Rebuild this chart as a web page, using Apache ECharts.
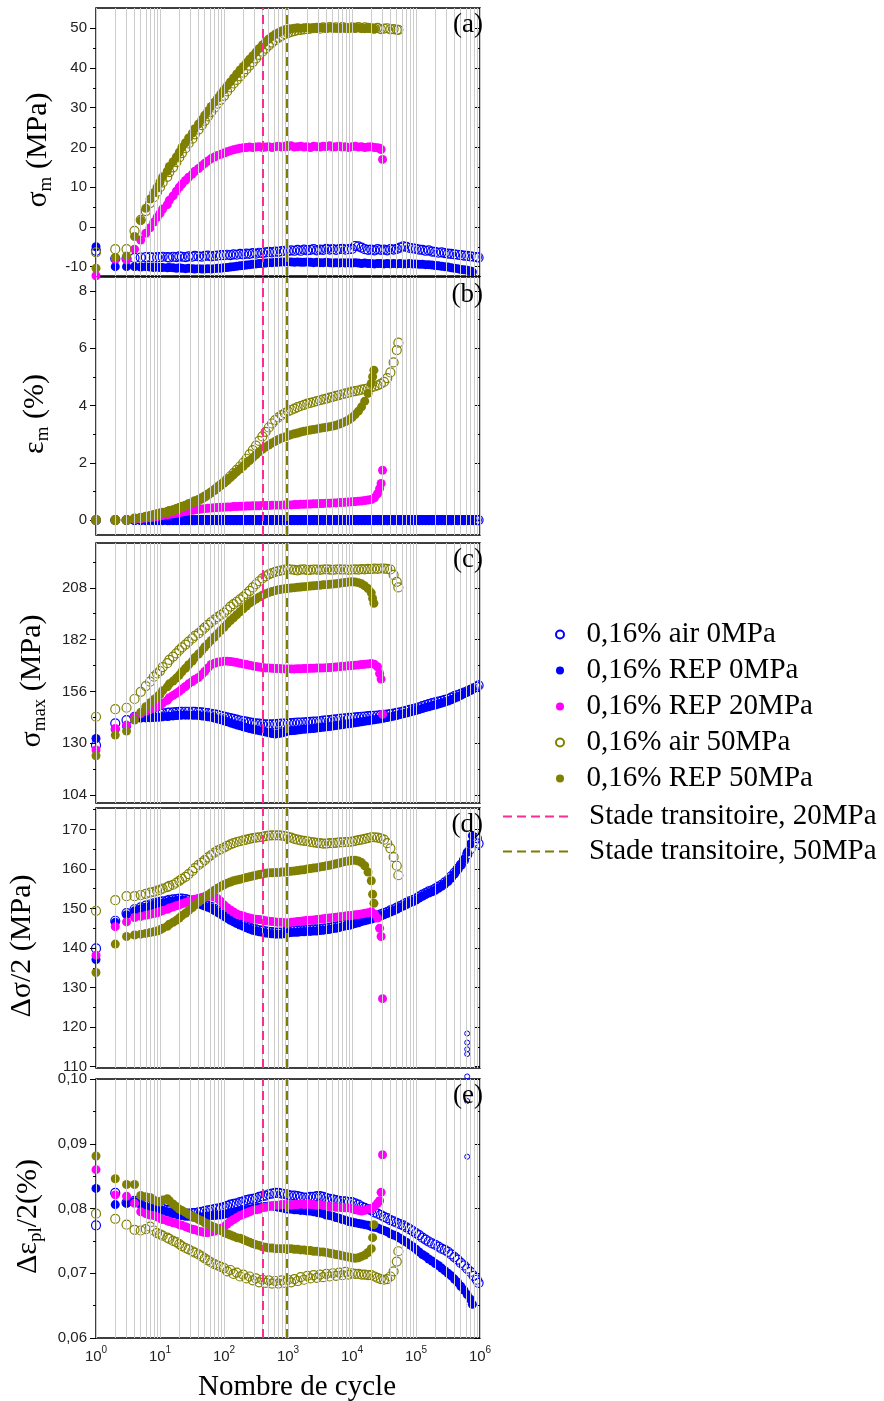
<!DOCTYPE html>
<html>
<head>
<meta charset="utf-8">
<script src="https://cdn.jsdelivr.net/npm/echarts@6/dist/echarts.min.js"></script>
<style>html,body{margin:0;padding:0;background:#fff}#c{width:884px;height:1401px}</style>
</head>
<body>
<div id="c"></div>
<script>
// ---------- cycles (x) ----------
const cycEarly = [1,2,3,4,5,6,7,8,9];
const cycD1 = [10,11,13,14,16,18,20,22,25,28,32,35,40,45,50,56,63,71,79,89];
const cycD2 = [100,112,126,141,158,178,200,224,251,282,316,355,398,447,501,562,631,708,794,891];
const cycD3 = [1000,1120,1260,1410,1580,1780,2000,2240,2510,2820,3160,3550,3980,4470,5010,5620,6310,7080,7940,8910];
const cycD4 = [10000,11200,12600,14100,15800,17800,20000,22400,25100,28200,31600,35500,39800,44700,50100,56200,63100,70800,79400,89100];
const cycD5 = [100000,112000,126000,141000,158000,178000,200000,224000,251000,282000,316000,355000,398000,447000,501000,562000,631000,708000,794000,891000];
const cycBase = cycEarly.concat(cycD1, cycD2, cycD3);
const cycAir0  = cycBase.concat(cycD4, cycD5, [950000]);
const cycRep0  = cycBase.concat(cycD4, cycD5.slice(0, 18), [760000]);
const cycRep20 = cycBase.concat(cycD4.slice(0, 8), [25000,27000,28500,30000]);
const cycAir50 = cycBase.concat(cycD4.slice(0, 15), [53000]);
const cycRep50 = cycBase.concat(cycD4.slice(0, 7), [21000,22000]);
const cycAir0Out = [630000,630000,630000,630000];

// ---------- (a) sigma_m (MPa) ----------
const a_air0 = [-6.0,-8.0,-8.0,-7.8,-7.7,-7.6,-7.6,-7.7,-7.6,
 -7.6,-7.5,-7.6,-7.7,-7.5,-7.6,-7.4,-7.5,-7.6,-7.4,-7.5,-7.3,-7.4,-7.5,-7.3,-7.2,-7.4,-7.3,-7.2,-7.1,
 -7.1,-7.0,-7.1,-6.9,-7.0,-6.8,-6.9,-6.7,-6.8,-6.6,-6.7,-6.5,-6.6,-6.4,-6.3,-6.4,-6.2,-6.3,-6.1,-6.0,
 -6.1,-5.9,-6.0,-5.8,-6.0,-5.7,-5.9,-5.8,-5.6,-5.9,-5.7,-5.8,-5.5,-5.7,-5.6,-5.8,-5.6,-5.5,-5.7,-5.6,
 -5.5,-4.8,-4.9,-5.2,-5.6,-5.8,-5.7,-5.9,-5.6,-5.8,-5.7,-5.9,-5.6,-5.7,-5.5,-5.2,-4.9,-5.0,-5.3,-5.4,
 -5.5,-5.7,-5.8,-6.0,-5.9,-6.2,-6.3,-6.5,-6.4,-6.6,-6.7,-6.8,-6.9,-7.0,-7.1,-7.2,-7.3,-7.4,-7.5,-7.6,
 -7.7];
const a_rep0 = [-5.0,-10.0,-10.0,-10.0,-10.1,-10.0,-10.1,-10.2,-10.1,
 -10.2,-10.2,-10.3,-10.2,-10.3,-10.4,-10.3,-10.4,-10.5,-10.4,-10.5,-10.6,-10.5,-10.6,-10.6,-10.5,-10.6,-10.5,-10.4,-10.4,
 -10.3,-10.2,-10.1,-10.0,-9.9,-9.8,-9.7,-9.6,-9.5,-9.4,-9.3,-9.2,-9.2,-9.1,-9.0,-9.0,-8.9,-8.9,-8.8,-8.8,
 -8.8,-8.8,-8.9,-8.8,-8.9,-8.9,-8.8,-8.9,-9.0,-8.9,-9.0,-9.0,-8.9,-9.0,-9.1,-9.0,-9.1,-9.0,-9.1,-9.0,
 -9.1,-9.0,-9.1,-9.2,-9.1,-9.2,-9.2,-9.3,-9.2,-9.2,-9.3,-9.2,-9.3,-9.2,-9.3,-9.2,-9.3,-9.3,-9.2,-9.3,
 -9.3,-9.4,-9.4,-9.5,-9.5,-9.6,-9.7,-9.8,-9.9,-10.0,-10.1,-10.3,-10.4,-10.5,-10.7,-10.8,-10.9,-11.1,
 -11.3];
const a_rep20 = [-12.3,-8.1,-8.3,-5.6,-3.3,-1.6,-0.2,1.2,2.4,
 3.4,4.5,5.6,6.7,7.8,9.0,10.0,10.8,11.7,12.5,13.3,14.0,14.7,15.4,16.0,16.6,17.2,17.6,18.0,18.3,
 18.6,18.9,19.2,19.4,19.6,19.8,19.9,20.0,20.1,20.0,20.1,20.2,20.0,20.1,20.2,20.0,20.2,20.3,20.1,20.3,
 20.2,20.4,20.1,20.2,20.3,20.1,20.2,20.0,20.3,20.2,20.1,20.3,20.2,20.4,20.1,20.2,20.3,20.1,20.2,20.0,
 20.2,20.3,20.1,20.2,20.0,20.1,20.2,20.0,
 19.9,19.8,19.5,17.0];
const a_air50 = [-6.4,-5.6,-5.6,-1.0,1.8,4.0,6.0,7.5,8.8,
 10.0,11.2,12.6,13.8,15.0,16.3,17.5,18.6,19.8,21.0,22.2,23.3,24.5,25.6,26.7,27.8,28.9,30.0,31.0,32.0,
 33.0,34.1,35.1,36.1,37.0,37.9,38.8,39.7,40.6,41.5,42.4,43.3,44.1,44.9,45.7,46.4,47.0,47.6,48.1,48.5,
 48.8,49.1,49.3,49.5,49.6,49.7,49.8,49.9,50.0,50.1,49.9,50.2,50.0,50.3,50.1,50.2,50.0,50.3,50.1,50.0,
 50.2,50.1,50.3,50.0,50.2,50.1,50.0,49.9,50.1,49.8,49.9,50.0,49.7,49.8,49.6,
 49.6];
const a_rep50 = [-10.4,-7.6,-7.3,-2.4,1.6,4.7,7.0,8.6,10.0,
 11.3,12.6,14.0,15.2,16.4,17.6,18.8,20.0,21.2,22.4,23.6,24.7,25.9,27.0,28.1,29.2,30.3,31.4,32.4,33.5,
 34.5,35.5,36.5,37.5,38.5,39.5,40.4,41.3,42.2,43.1,44.0,44.9,45.8,46.6,47.3,47.9,48.5,48.9,49.3,49.6,
 49.8,49.9,50.0,50.1,50.0,50.1,50.2,50.0,50.1,50.0,50.2,50.1,50.0,50.1,50.2,50.0,50.1,50.0,50.1,50.0,
 50.1,50.0,50.1,50.0,49.9,50.0,50.0,
 49.9,49.8];

// ---------- (b) eps_m (%) ----------
const b_air0 = [0,0,0,0,0,0,0,0,0,
 0,0,0,0,0,0,0,0,0,0,0,0,0,0,0,0,0,0,0,0,
 0,0,0,0,0,0,0,0,0,0,0,0,0,0,0,0,0,0,0,0,
 0,0,0,0,0,0,0,0,0,0,0,0,0,0,0,0,0,0,0,0,
 0,0,0,0,0,0,0,0,0,0,0,0,0,0,0,0,0,0,0,0,
 0,0,0,0,0,0,0,0,0,0,0,0,0,0,0,0,0,0,0,0,
 0];
const b_rep0 = [0,0,0,0,0,0,0,0,0,
 0,0,0,0,0,0,0,0,0,0,0,0,0,0,0,0,0,0,0,0,
 0,0,0,0,0,0,0,0,0,0,0,0,0,0,0,0,0,0,0,0,
 0,0,0,0,0,0,0,0,0,0,0,0,0,0,0,0,0,0,0,0,
 0,0,0,0,0,0,0,0,0,0,0,0,0,0,0,0,0,0,0,0,
 0,0,0,0,0,0,0,0,0,0,0,0,0,0,0,0,0,0,
 0];
const b_rep20 = [0,0,0,0.02,0.04,0.06,0.08,0.10,0.12,
 0.14,0.16,0.18,0.20,0.22,0.24,0.26,0.28,0.30,0.32,0.34,0.36,0.37,0.39,0.40,0.41,0.42,0.43,0.44,0.445,
 0.45,0.46,0.46,0.47,0.47,0.48,0.48,0.49,0.49,0.50,0.50,0.50,0.51,0.51,0.51,0.52,0.52,0.52,0.52,0.53,
 0.53,0.53,0.54,0.54,0.55,0.55,0.56,0.56,0.57,0.57,0.58,0.58,0.59,0.59,0.60,0.60,0.61,0.61,0.62,0.63,
 0.64,0.65,0.66,0.67,0.68,0.70,0.72,0.78,
 0.92,1.10,1.28,1.74];
const b_air50 = [0,0,0,0.05,0.08,0.11,0.14,0.17,0.20,
 0.23,0.25,0.28,0.31,0.34,0.38,0.42,0.46,0.50,0.55,0.60,0.65,0.70,0.76,0.82,0.89,0.97,1.05,1.14,1.23,
 1.32,1.42,1.53,1.64,1.75,1.87,2.00,2.14,2.29,2.44,2.60,2.76,2.92,3.08,3.23,3.37,3.49,3.58,3.66,3.73,
 3.79,3.84,3.89,3.94,3.98,4.02,4.06,4.09,4.12,4.15,4.18,4.21,4.24,4.27,4.30,4.33,4.36,4.39,4.42,4.45,
 4.48,4.50,4.52,4.55,4.57,4.60,4.63,4.66,4.70,4.75,4.82,4.95,5.15,5.50,5.93,
 6.19];
const b_rep50 = [0,0,0,0.06,0.09,0.12,0.15,0.18,0.21,
 0.24,0.26,0.29,0.32,0.35,0.39,0.43,0.47,0.51,0.56,0.61,0.66,0.71,0.77,0.83,0.90,0.97,1.05,1.13,1.21,
 1.29,1.38,1.48,1.58,1.68,1.78,1.88,1.98,2.08,2.18,2.28,2.38,2.47,2.55,2.62,2.69,2.75,2.81,2.86,2.90,
 2.94,2.98,3.01,3.04,3.07,3.10,3.12,3.14,3.16,3.18,3.20,3.22,3.24,3.26,3.28,3.31,3.35,3.39,3.44,3.50,
 3.58,3.68,3.80,3.95,4.15,4.42,4.77,
 5.00,5.23];

// ---------- (c) sigma_max (MPa) ----------
const c_air0 = [129.0,140.0,141.6,143.3,143.8,144.0,144.3,144.5,144.7,
 145.0,145.1,145.3,145.4,145.5,145.6,145.7,145.8,145.8,145.8,145.8,145.7,145.6,145.5,145.3,145.1,144.8,144.5,144.2,143.8,
 143.4,143.0,142.6,142.2,141.8,141.4,141.1,140.8,140.5,140.2,140.0,139.8,139.6,139.5,139.5,139.5,139.6,139.7,139.8,139.9,
 140.0,140.1,140.2,140.3,140.4,140.5,140.6,140.7,140.8,140.9,141.1,141.3,141.5,141.6,141.8,142.0,142.2,142.4,142.5,142.7,
 142.8,143.0,143.1,143.3,143.4,143.6,143.7,143.8,143.9,144.1,144.2,144.4,144.6,144.9,145.2,145.5,145.9,146.3,146.7,147.1,
 147.5,148.0,148.6,149.1,149.6,150.1,150.5,150.9,151.3,151.8,152.2,152.9,153.6,154.2,154.8,155.4,156.0,156.8,157.6,158.3,
 159.0];
const c_rep0 = [132.4,137.0,138.5,142.5,142.6,142.7,142.8,142.9,143.0,
 143.1,143.3,143.4,143.6,143.7,143.9,144.0,144.1,144.1,144.1,144.1,144.0,143.9,143.7,143.5,143.3,143.0,142.6,142.2,141.8,
 141.3,140.8,140.2,139.7,139.2,138.8,138.3,137.8,137.4,137.0,136.6,136.3,136.0,135.6,135.2,134.9,134.6,134.8,135.1,135.6,
 136.1,136.3,136.4,136.6,136.8,137.0,137.1,137.3,137.4,137.6,137.8,138.0,138.2,138.4,138.6,138.9,139.1,139.3,139.6,139.8,
 140.0,140.3,140.5,140.8,141.0,141.3,141.5,141.8,142.0,142.3,142.6,142.9,143.2,143.6,143.9,144.4,144.8,145.2,145.6,146.0,
 146.4,146.9,147.4,147.9,148.3,148.8,149.2,149.7,150.1,150.6,151.2,151.8,152.5,153.2,154.0,154.8,155.6,156.5,
 157.5];
const c_rep20 = [126.6,137.4,139.1,143.3,144.8,146.0,147.1,148.0,148.6,
 149.0,150.2,151.5,152.8,154.0,155.0,156.0,157.2,158.5,159.8,161.0,162.0,163.0,164.5,166.0,167.8,169.5,170.1,170.6,170.9,
 171.2,171.2,171.0,170.8,170.5,170.1,169.8,169.5,169.2,168.8,168.5,168.2,168.0,167.8,167.7,167.6,167.5,167.5,167.4,167.3,
 167.3,167.3,167.3,167.4,167.4,167.5,167.5,167.6,167.6,167.7,167.7,167.8,167.9,168.0,168.1,168.3,168.4,168.6,168.7,168.9,
 169.0,169.2,169.3,169.5,169.6,169.8,170.0,169.6,
 168.4,165.0,162.2,144.5];
const c_air50 = [143.3,147.1,147.8,152.2,155.8,158.7,160.9,163.4,165.0,
 166.2,168.2,170.2,171.8,173.5,175.1,176.7,178.1,179.5,181.0,182.6,183.9,185.1,186.6,188.0,189.4,190.8,192.0,193.3,194.4,
 195.5,197.0,198.6,199.8,201.0,202.2,203.5,205.0,206.5,208.2,209.8,211.3,212.7,213.8,214.8,215.4,216.0,216.4,216.8,217.1,
 217.4,217.2,217.0,216.8,217.1,217.3,216.9,217.0,217.2,217.1,217.0,217.2,217.3,217.1,217.0,217.2,217.3,217.1,217.2,217.0,
 217.2,217.3,217.1,217.4,217.3,217.5,217.4,217.6,217.5,217.7,217.6,217.5,217.2,214.5,211.0,
 208.2];
const c_rep50 = [123.7,134.1,136.1,141.6,145.5,148.3,150.3,152.0,153.3,
 154.5,156.4,158.3,159.8,161.2,162.7,164.2,165.9,167.6,169.4,171.2,173.0,174.8,176.5,178.3,179.9,181.6,183.3,185.0,186.6,
 188.2,189.9,191.6,193.0,194.5,196.0,197.5,198.9,200.3,201.4,202.4,203.4,204.3,205.0,205.6,206.1,206.6,207.0,207.3,207.5,
 207.7,207.9,208.1,208.3,208.4,208.6,208.7,208.9,209.0,209.2,209.3,209.5,209.6,209.8,209.9,210.1,210.3,210.5,210.7,210.9,
 211.0,210.9,210.6,210.0,209.0,207.6,205.5,
 202.7,200.2];

// ---------- (d) delta sigma / 2 (MPa) ----------
const d_air0 = [139.9,146.9,148.8,149.8,150.3,150.7,151.0,151.3,151.5,
 151.7,151.8,152.0,152.2,152.3,152.4,152.5,152.5,152.4,152.2,152.0,151.8,151.5,151.3,151.0,150.7,150.4,149.9,149.4,148.9,
 148.4,147.9,147.4,147.0,146.6,146.2,145.9,145.5,145.2,144.9,144.7,144.5,144.4,144.2,144.1,144.0,143.9,143.9,143.9,144.0,
 144.2,144.3,144.4,144.4,144.5,144.5,144.6,144.6,144.7,144.7,144.8,144.9,145.0,145.1,145.3,145.4,145.6,145.8,146.0,146.1,
 146.3,146.6,146.8,147.1,147.3,147.5,147.7,148.0,148.2,148.5,148.8,149.1,149.5,149.8,150.2,150.6,151.0,151.4,151.8,152.1,
 152.5,153.0,153.5,153.9,154.3,154.6,155.0,155.5,156.0,156.6,157.2,158.1,159.0,160.0,161.0,162.2,163.6,165.0,166.8,167.8,
 166.4];
const d_air0_out = [118.4,116.1,114.4,113.2];
const d_rep0 = [137.1,146.5,148.4,149.4,149.9,150.3,150.6,150.9,151.1,
 151.3,151.4,151.6,151.8,151.9,152.0,152.1,152.1,152.0,151.8,151.6,151.4,151.1,150.9,150.6,150.3,150.0,149.5,149.0,148.5,
 148.0,147.5,147.0,146.6,146.2,145.8,145.5,145.1,144.8,144.5,144.3,144.1,144.0,143.8,143.7,143.6,143.5,143.5,143.5,143.6,
 143.8,143.9,144.0,144.0,144.1,144.1,144.2,144.2,144.3,144.3,144.4,144.5,144.6,144.7,144.9,145.0,145.2,145.4,145.6,145.7,
 145.9,146.2,146.4,146.7,146.9,147.1,147.3,147.6,147.8,148.1,148.4,148.7,149.1,149.4,149.8,150.2,150.6,151.0,151.4,151.7,
 152.1,152.6,153.1,153.5,153.9,154.2,154.6,155.1,155.6,156.2,156.8,157.7,158.7,159.8,161.0,162.4,164.2,166.3,
 168.4];
const d_rep20 = [138.2,145.4,146.6,147.7,148.0,148.3,148.5,148.7,148.9,
 149.2,149.5,149.8,150.1,150.4,150.7,150.9,151.2,151.5,151.8,152.1,152.3,152.6,152.8,153.0,153.1,153.1,152.9,152.5,151.8,
 150.9,150.2,149.6,149.1,148.6,148.3,148.1,147.8,147.6,147.4,147.3,147.2,147.1,146.9,146.8,146.7,146.6,146.5,146.5,146.4,
 146.4,146.5,146.6,146.7,146.8,146.9,147.0,147.0,147.1,147.2,147.3,147.4,147.5,147.6,147.7,147.8,147.9,148.0,148.1,148.2,
 148.2,148.4,148.5,148.6,148.8,148.9,149.2,148.6,
 147.6,145.0,142.9,127.2];
const d_air50 = [149.4,152.1,153.1,153.1,153.4,153.7,154.0,154.2,154.5,
 154.7,155.0,155.4,155.7,156.0,156.5,157.0,157.5,158.0,158.7,159.5,160.2,161.0,161.6,162.2,162.9,163.5,164.1,164.6,165.0,
 165.4,165.8,166.2,166.5,166.8,167.0,167.2,167.4,167.6,167.8,167.9,168.0,168.1,168.3,168.4,168.5,168.5,168.5,168.4,168.3,
 168.1,167.9,167.6,167.4,167.2,167.1,167.0,166.8,166.7,166.6,166.5,166.4,166.4,166.5,166.5,166.6,166.7,166.7,166.8,166.8,
 166.9,167.1,167.3,167.4,167.6,167.8,168.0,168.0,167.9,167.7,167.4,166.5,165.2,163.0,160.8,
 158.4];
const d_rep50 = [133.8,141.0,142.9,143.3,143.5,143.7,143.9,144.1,144.3,
 144.6,145.0,145.5,146.0,146.5,147.0,147.6,148.2,148.8,149.5,150.2,150.9,151.6,152.2,152.8,153.4,154.0,154.6,155.1,155.6,
 156.0,156.4,156.7,157.0,157.2,157.4,157.6,157.8,158.0,158.2,158.4,158.6,158.7,158.9,159.0,159.0,159.1,159.1,159.2,159.2,
 159.3,159.4,159.5,159.6,159.7,159.8,160.0,160.1,160.2,160.3,160.5,160.6,160.8,160.9,161.1,161.3,161.5,161.7,161.9,162.0,
 162.2,162.2,162.0,161.6,160.8,159.2,157.0,
 153.6,151.3];

// ---------- (e) delta eps_pl / 2 (%) ----------
const e_air0 = [0.0774,0.0824,0.0809,0.0812,0.0808,0.0806,0.0804,0.0803,0.0802,
 0.0803,0.0800,0.0798,0.0797,0.0796,0.0795,0.0794,0.0793,0.0792,0.0792,0.0793,0.0793,0.0794,0.0795,0.0796,0.0797,0.0798,0.0799,0.0800,0.0801,
 0.0802,0.0804,0.0806,0.0807,0.0808,0.0810,0.0811,0.0813,0.0814,0.0815,0.0816,0.0818,0.0819,0.0820,0.0822,0.0823,0.0824,0.0824,0.0823,0.0822,
 0.0821,0.0820,0.0820,0.0819,0.0818,0.0817,0.0817,0.0818,0.0818,0.0819,0.0819,0.0818,0.0816,0.0815,0.0814,0.0813,0.0812,0.0811,0.0811,0.0810,
 0.0810,0.0808,0.0806,0.0803,0.0801,0.0799,0.0797,0.0794,0.0792,0.0790,0.0787,0.0785,0.0782,0.0780,0.0778,0.0776,0.0774,0.0771,0.0768,0.0765,
 0.0762,0.0759,0.0755,0.0752,0.0749,0.0746,0.0744,0.0741,0.0738,0.0736,0.0733,0.0729,0.0725,0.0721,0.0716,0.0712,0.0707,0.0702,0.0696,0.0690,
 0.0685];
const e_air0_out = [0.1004,0.0966,0.0880];
const e_rep0 = [0.0831,0.0806,0.0808,0.0811,0.0806,0.0803,0.0801,0.0800,0.0799,
 0.0798,0.0797,0.0795,0.0794,0.0792,0.0791,0.0790,0.0789,0.0788,0.0788,0.0787,0.0787,0.0787,0.0787,0.0788,0.0788,0.0789,0.0789,0.0790,0.0790,
 0.0791,0.0792,0.0793,0.0794,0.0795,0.0796,0.0797,0.0798,0.0799,0.0800,0.0801,0.0802,0.0803,0.0803,0.0804,0.0804,0.0803,0.0802,0.0801,0.0800,
 0.0799,0.0799,0.0798,0.0798,0.0797,0.0797,0.0796,0.0796,0.0795,0.0794,0.0793,0.0792,0.0790,0.0789,0.0788,0.0786,0.0785,0.0783,0.0782,0.0780,
 0.0779,0.0778,0.0777,0.0776,0.0775,0.0774,0.0772,0.0771,0.0770,0.0768,0.0766,0.0764,0.0761,0.0759,0.0757,0.0754,0.0751,0.0748,0.0744,0.0741,
 0.0737,0.0733,0.0729,0.0726,0.0722,0.0719,0.0715,0.0712,0.0708,0.0704,0.0700,0.0696,0.0691,0.0686,0.0680,0.0674,0.0667,0.0660,
 0.0652];
const e_rep20 = [0.0860,0.0821,0.0819,0.0808,0.0795,0.0792,0.0790,0.0789,0.0787,
 0.0785,0.0783,0.0781,0.0780,0.0778,0.0777,0.0775,0.0774,0.0772,0.0770,0.0768,0.0767,0.0765,0.0764,0.0763,0.0763,0.0764,0.0765,0.0767,0.0769,
 0.0772,0.0776,0.0780,0.0783,0.0786,0.0789,0.0791,0.0793,0.0795,0.0797,0.0798,0.0799,0.0801,0.0802,0.0803,0.0804,0.0805,0.0805,0.0806,0.0806,
 0.0806,0.0805,0.0806,0.0806,0.0807,0.0806,0.0807,0.0806,0.0806,0.0805,0.0806,0.0805,0.0804,0.0803,0.0803,0.0802,0.0802,0.0801,0.0801,0.0801,
 0.0800,0.0798,0.0797,0.0796,0.0797,0.0799,0.0800,0.0803,
 0.0808,0.0812,0.0825,0.0883];
const e_air50 = [0.0792,0.0784,0.0775,0.0767,0.0766,0.0768,0.0772,0.0766,0.0762,
 0.0760,0.0758,0.0755,0.0753,0.0750,0.0748,0.0745,0.0742,0.0739,0.0737,0.0734,0.0732,0.0729,0.0726,0.0723,0.0720,0.0717,0.0714,0.0712,0.0710,
 0.0708,0.0703,0.0705,0.0699,0.0701,0.0695,0.0698,0.0692,0.0695,0.0689,0.0692,0.0686,0.0690,0.0685,0.0689,0.0684,0.0688,0.0684,0.0689,0.0685,
 0.0690,0.0686,0.0691,0.0688,0.0694,0.0690,0.0696,0.0692,0.0697,0.0693,0.0698,0.0694,0.0699,0.0695,0.0700,0.0696,0.0701,0.0697,0.0702,0.0698,
 0.0700,0.0699,0.0699,0.0698,0.0698,0.0697,0.0697,0.0695,0.0693,0.0691,0.0690,0.0691,0.0695,0.0703,0.0718,
 0.0734];
const e_rep50 = [0.0881,0.0846,0.0837,0.0837,0.0820,0.0818,0.0817,0.0813,0.0811,
 0.0810,0.0813,0.0815,0.0812,0.0807,0.0803,0.0799,0.0797,0.0794,0.0791,0.0788,0.0786,0.0783,0.0781,0.0778,0.0776,0.0773,0.0771,0.0768,0.0766,
 0.0763,0.0761,0.0759,0.0757,0.0755,0.0754,0.0752,0.0750,0.0748,0.0746,0.0744,0.0743,0.0741,0.0740,0.0739,0.0739,0.0738,0.0738,0.0738,0.0738,
 0.0738,0.0738,0.0737,0.0737,0.0736,0.0736,0.0735,0.0735,0.0734,0.0734,0.0733,0.0733,0.0732,0.0731,0.0730,0.0729,0.0728,0.0727,0.0726,0.0725,
 0.0724,0.0723,0.0724,0.0726,0.0728,0.0732,0.0738,
 0.0755,0.0775];

// ---------- ticks ----------
const xMajorTicks = [1,10,100,1000,10000,100000,1000000];
const xMinorTicks = [2,3,4,5,6,7,8,9, 20,30,40,50,60,70,80,90, 200,300,400,500,600,700,800,900, 2000,3000,4000,5000,6000,7000,8000,9000, 20000,30000,40000,50000,60000,70000,80000,90000, 200000,300000,400000,500000,600000,700000,800000,900000];
const aTicks = [-10,0,10,20,30,40,50], aMinor = [-5,5,15,25,35,45];
const bTicks = [0,2,4,6,8], bMinor = [1,3,5,7];
const cTicks = [104,130,156,182,208], cMinor = [117,143,169,195,221];
const dTicks = [110,120,130,140,150,160,170], dMinor = [115,125,135,145,155,165,175];
const eTicks = [0.06,0.07,0.08,0.09,0.10], eMinor = [0.065,0.075,0.085,0.095];

// transition stages
const transNames = ['Stade transitoire, 20MPa','Stade transitoire, 50MPa'];
const transCycles = [400, 950];

const seriesNames = ['0,16% air 0MPa','0,16% REP 0MPa','0,16% REP 20MPa','0,16% air 50MPa','0,16% REP 50MPa'];

// ---------- build ----------
const BLUE = '#0000ff', MAG = '#ff00ff', OLIVE = '#808000', PINK = '#ff2a95';
const SDEF = [
  {name: seriesNames[0], color: BLUE,  open: true,  cyc: cycAir0,  vals: [a_air0, b_air0, c_air0, d_air0, e_air0]},
  {name: seriesNames[1], color: BLUE,  open: false, cyc: cycRep0,  vals: [a_rep0, b_rep0, c_rep0, d_rep0, e_rep0]},
  {name: seriesNames[2], color: MAG,   open: false, cyc: cycRep20, vals: [a_rep20, b_rep20, c_rep20, d_rep20, e_rep20]},
  {name: seriesNames[3], color: OLIVE, open: true,  cyc: cycAir50, vals: [a_air50, b_air50, c_air50, d_air50, e_air50]},
  {name: seriesNames[4], color: OLIVE, open: false, cyc: cycRep50, vals: [a_rep50, b_rep50, c_rep50, d_rep50, e_rep50]}
];
const TDEF = [
  {name: transNames[0], color: PINK,   x: transCycles[0]},
  {name: transNames[1], color: '#7d7d00', x: transCycles[1]}
];
const PANELS = [
  {top: 8,    height: 268, min: -12.35, max: 55.1,  major: aTicks, minor: aMinor, dec: 0, title: '{t|σ}{s|m}{t| (MPa)}',  gap: 40, label: '(a)', ly: 25},
  {top: 277,  height: 258, min: -0.52,  max: 8.48,  major: bTicks, minor: bMinor, dec: 0, title: '{t|ε}{s|m}{t| (%)}',    gap: 43, label: '(b)', ly: 295},
  {top: 543,  height: 260, min: 100.0,  max: 230.5, major: cTicks, minor: cMinor, dec: 0, title: '{t|σ}{s|max}{t| (MPa)}', gap: 46, label: '(c)', ly: 560},
  {top: 808,  height: 260, min: 109.67, max: 175.4, major: dTicks, minor: dMinor, dec: 0, title: '{t|Δσ/2 (MPa)}',        gap: 56, label: '(d)', ly: 825, outCyc: cycAir0Out, out: d_air0_out},
  {top: 1079, height: 259, min: 0.06,   max: 0.10,  major: eTicks, minor: eMinor, dec: 2, title: '{t|Δε}{s|pl}{t|/2(%)}',  gap: 50, label: '(e)', ly: 1096, outCyc: cycAir0Out, out: e_air0_out}
];

const SANS = 'Liberation Sans', SERIF = 'Liberation Serif';
const grid = [], xAxis = [], yAxis = [], series = [], graphic = [];
const gridLineX = xMajorTicks.concat(xMinorTicks);

PANELS.forEach((p, gi) => {
  const last = gi === PANELS.length - 1;
  grid.push({left: 96, width: 384, top: p.top, height: p.height, show: true, borderColor: '#000', borderWidth: 1.5, backgroundColor: 'transparent', containLabel: false, outerBoundsMode: 'none'});
  xAxis.push({
    gridIndex: gi, type: 'log', logBase: 10, min: 1, max: 1e6, position: 'bottom',
    axisLine: {show: false}, splitLine: {show: false},
    axisTick: {show: true, inside: true, length: 6, customValues: xMajorTicks, lineStyle: {color: '#000', width: 1}},
    axisLabel: {show: last, customValues: xMajorTicks, margin: 7,
      formatter: v => '{b|10}{s|' + Math.round(Math.log10(v)) + '}',
      rich: {b: {fontFamily: SANS, fontSize: 15, color: '#222', lineHeight: 24},
             s: {fontFamily: SANS, fontSize: 10, color: '#222', lineHeight: 12, verticalAlign: 'top'}}},
    name: last ? 'Nombre de cycle' : '', nameLocation: 'middle', nameGap: 35,
    nameTextStyle: {fontFamily: SERIF, fontSize: 29, color: '#000', padding: [0, 0, 0, 18]}
  });
  xAxis.push({
    gridIndex: gi, type: 'log', logBase: 10, min: 1, max: 1e6, position: 'bottom',
    axisLine: {show: false}, splitLine: {show: false}, axisLabel: {show: false},
    axisTick: {show: true, inside: true, length: 3, customValues: xMinorTicks, lineStyle: {color: '#000', width: 1}}
  });
  const fmt = v => p.dec ? v.toFixed(p.dec).replace('.', ',') : String(v);
  const yb = () => ({gridIndex: gi, type: 'value', min: p.min, max: p.max, axisLine: {show: false}, splitLine: {show: false}});
  yAxis.push(Object.assign(yb(), {
    position: 'left',
    axisTick: {show: true, inside: false, length: 6, customValues: p.major, lineStyle: {color: '#000', width: 1}},
    axisLabel: {show: true, customValues: p.major, margin: 9, fontFamily: SANS, fontSize: 15, color: '#222', formatter: fmt},
    name: p.title, nameLocation: 'middle', nameGap: p.gap, nameRotate: 90,
    nameTextStyle: {fontFamily: SERIF, fontSize: 30, color: '#000', padding: [0, 16, 0, 0], rich: {
      t: {fontFamily: SERIF, fontSize: 30, color: '#000', lineHeight: 36},
      s: {fontFamily: SERIF, fontSize: 19, color: '#000', lineHeight: 19, verticalAlign: 'bottom'}}}
  }));
  yAxis.push(Object.assign(yb(), {position: 'left', axisLabel: {show: false},
    axisTick: {show: true, inside: false, length: 3, customValues: p.minor, lineStyle: {color: '#000', width: 1}}}));
  yAxis.push(Object.assign(yb(), {position: 'right', axisLabel: {show: false},
    axisTick: {show: true, inside: true, length: 6, customValues: p.major, lineStyle: {color: '#000', width: 1}}}));
  yAxis.push(Object.assign(yb(), {position: 'right', axisLabel: {show: false},
    axisTick: {show: true, inside: true, length: 3, customValues: p.minor, lineStyle: {color: '#000', width: 1}}}));

  const xi = gi * 2, yi = gi * 4;
  // vertical grid lines
  series.push({type: 'scatter', data: [], xAxisIndex: xi, yAxisIndex: yi, silent: true, z: 1,
    markLine: {silent: true, animation: false, symbol: ['none', 'none'], label: {show: false},
      lineStyle: {color: '#cccccc', width: 1, type: 'solid'}, emphasis: {disabled: true},
      data: gridLineX.map(v => ({xAxis: v}))}});
  // data
  SDEF.forEach(s => {
    const vals = s.vals[gi];
    series.push({
      name: s.name, type: 'scatter', xAxisIndex: xi, yAxisIndex: yi,
      data: vals.map((v, i) => [s.cyc[i], v]),
      symbol: 'circle', symbolSize: 9, clip: false, z: 3, silent: true,
      emphasis: {disabled: true},
      itemStyle: s.open ? {color: 'rgba(255,255,255,0)', borderColor: s.color, borderWidth: 1.2, opacity: 1}
                        : {color: s.color, borderColor: s.color, borderWidth: 0, opacity: 1}
    });
  });
  if (p.out) {
    series.push({
      name: seriesNames[0], type: 'scatter', xAxisIndex: xi, yAxisIndex: yi,
      data: p.out.map((v, i) => [p.outCyc[i], v]),
      symbol: 'circle', symbolSize: 5, clip: false, z: 3, silent: true, emphasis: {disabled: true},
      itemStyle: {color: 'rgba(255,255,255,0)', borderColor: BLUE, borderWidth: 1, opacity: 1}
    });
  }
  // transition dashed lines
  TDEF.forEach(t => {
    series.push({
      name: t.name, type: 'line', data: [], xAxisIndex: xi, yAxisIndex: yi, symbol: 'none', z: 5,
      lineStyle: {color: t.color, width: 2, type: [9, 5]}, itemStyle: {color: t.color},
      markLine: {silent: true, animation: false, symbol: ['none', 'none'], label: {show: false},
        lineStyle: {color: t.color, width: 2, type: [9, 5]}, emphasis: {disabled: true},
        data: [{xAxis: t.x}]}
    });
  });
  graphic.push({type: 'text', x: 483, y: p.ly, z: 20,
    style: {text: p.label, font: '27px "Liberation Serif"', fill: '#000', align: 'right', verticalAlign: 'middle', textAlign: 'right', textVerticalAlign: 'middle'}});
});

const chart = echarts.init(document.getElementById('c'), null, {renderer: 'canvas', width: 884, height: 1401});
chart.setOption({
  backgroundColor: '#fff',
  animation: false,
  grid, xAxis, yAxis, series, graphic,
  legend: [
    {data: seriesNames, orient: 'vertical', left: 555, top: 620, padding: 0, itemWidth: 43, itemHeight: 8, itemGap: 7,
     icon: 'circle', selectedMode: false,
     textStyle: {fontFamily: SERIF, fontSize: 29, color: '#000', lineHeight: 29}},
    {data: transNames, orient: 'vertical', left: 502, top: 802, padding: 0, itemWidth: 68, itemHeight: 10, itemGap: 6,
     selectedMode: false, itemStyle: {opacity: 0},
     textStyle: {fontFamily: SERIF, fontSize: 29, color: '#000', lineHeight: 29, padding: [0, 0, 0, 13]}}
  ]
});
</script>
</body>
</html>
